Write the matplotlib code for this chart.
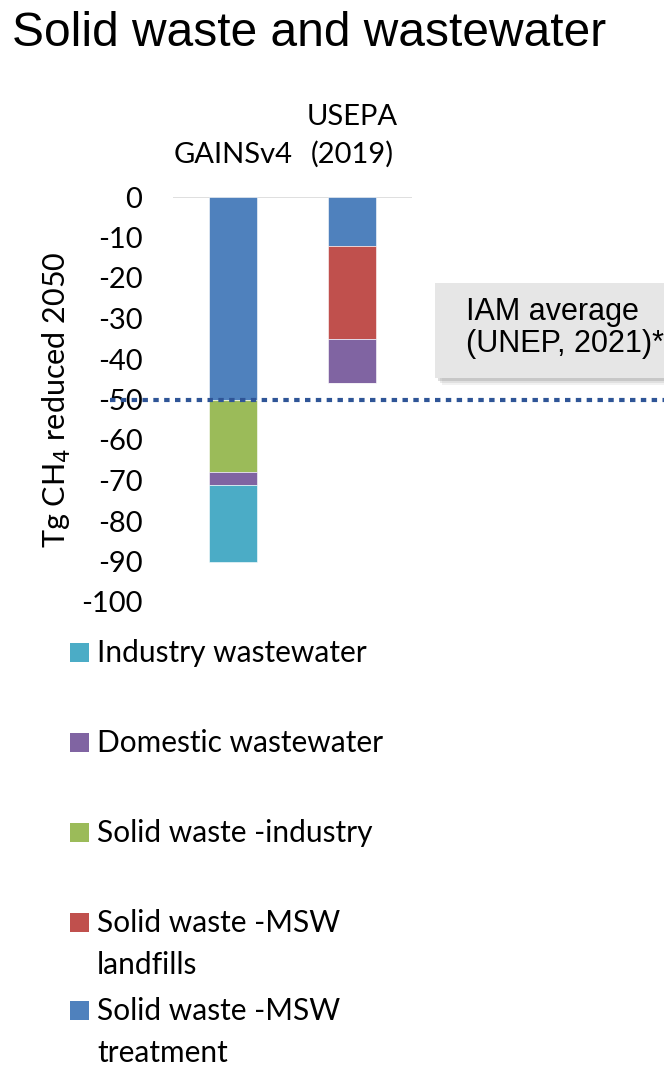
import matplotlib.pyplot as plt
from matplotlib.patches import Rectangle

# methane reduction potential in 2050 (Tg CH4), stacked downwards from zero
sources = ["GAINSv4", "USEPA\n(2019)"]
series = [
    "Solid waste -MSW\ntreatment",
    "Solid waste -MSW\nlandfills",
    "Solid waste -industry",
    "Domestic wastewater",
    "Industry wastewater",
]
msw_treatment = [-50, -12]
msw_landfills = [0, -23]
sw_industry = [-18, 0]
domestic_ww = [-3, -11]
industry_ww = [-19, 0]
iam_average = -50

colors = ["#4F81BD", "#C0504D", "#9BBB59", "#8064A2", "#4BACC6"]
body_font = ["Lato", "DejaVu Sans"]
box_font = ["Liberation Sans", "DejaVu Sans"]

W, H = 664, 1067
fig = plt.figure(figsize=(W / 100, H / 100), dpi=100)
ax = fig.add_axes([173 / W, 1 - 602 / H, 239 / W, 405 / H])

values = [msw_treatment, msw_landfills, sw_industry, domestic_ww, industry_ww]
bottom = [0.0, 0.0]
for vals, color, name in zip(values, colors, series):
    ax.bar(range(len(sources)), vals, width=0.4, bottom=bottom, color=color,
           edgecolor="white", linewidth=0.4, label=name, zorder=2)
    bottom = [b + v for b, v in zip(bottom, vals)]

ax.set_xlim(-0.5, 1.5)
ax.set_ylim(-100, 0)
ax.set_yticks(range(0, -101, -10))
ax.set_yticklabels([str(v) for v in range(0, -101, -10)], fontsize=21, family=body_font)
ax.xaxis.tick_top()
ax.set_xticks(range(len(sources)))
ax.set_xticklabels(sources, fontsize=21, family=body_font, linespacing=1.5)
ax.tick_params(axis="y", length=0, pad=22)
ax.tick_params(axis="x", length=0, pad=21)
for s in ax.spines.values():
    s.set_visible(False)
ax.axhline(0, color="#D9D9D9", lw=1.2, zorder=1)

ax.axhline(iam_average, xmin=-0.264, xmax=2.06, clip_on=False, color="#2F5597",
           lw=3, linestyle=(0, (1.3, 1.3)), dash_capstyle="butt", zorder=3)

ax.set_ylabel("Tg CH$_4$ reduced 2050", fontsize=22, family=body_font)
ax.yaxis.set_label_coords((73 - 173) / 239, 0.5)

fig.text(12 / W, 1 - 33 / H, "Solid waste and wastewater", fontsize=34.5,
         family=box_font, va="center", ha="left")

# callout box for the IAM average line
def px_rect(x0, y0, w, h, **kw):
    fig.add_artist(Rectangle((x0 / W, 1 - (y0 + h) / H), w / W, h / H,
                             transform=fig.transFigure, **kw))

for off, a in [(7, 0.10), (5, 0.15), (3, 0.25)]:
    px_rect(435 + off, 283 + off, 240, 95, color="#7F7F7F", alpha=a, lw=0)
px_rect(435, 283, 240, 95, color="#E6E6E6", lw=0)
fig.text(466 / W, 1 - 328 / H, "IAM average\n(UNEP, 2021)*", fontsize=22,
         family=box_font, va="center", ha="left", linespacing=1.05)

# legend, listed in reverse stacking order
legend_rows = [652, 742, 832, 922, 1010]
for y, name, color in zip(legend_rows, series[::-1], colors[::-1]):
    px_rect(70, y - 9.5, 19, 19, color=color, lw=0)
    fig.text(97 / W, 1 - (y - 13) / H, name, fontsize=21.5, family=body_font,
             va="top", ha="left", linespacing=1.6)

fig.savefig("out.png", dpi=100)
